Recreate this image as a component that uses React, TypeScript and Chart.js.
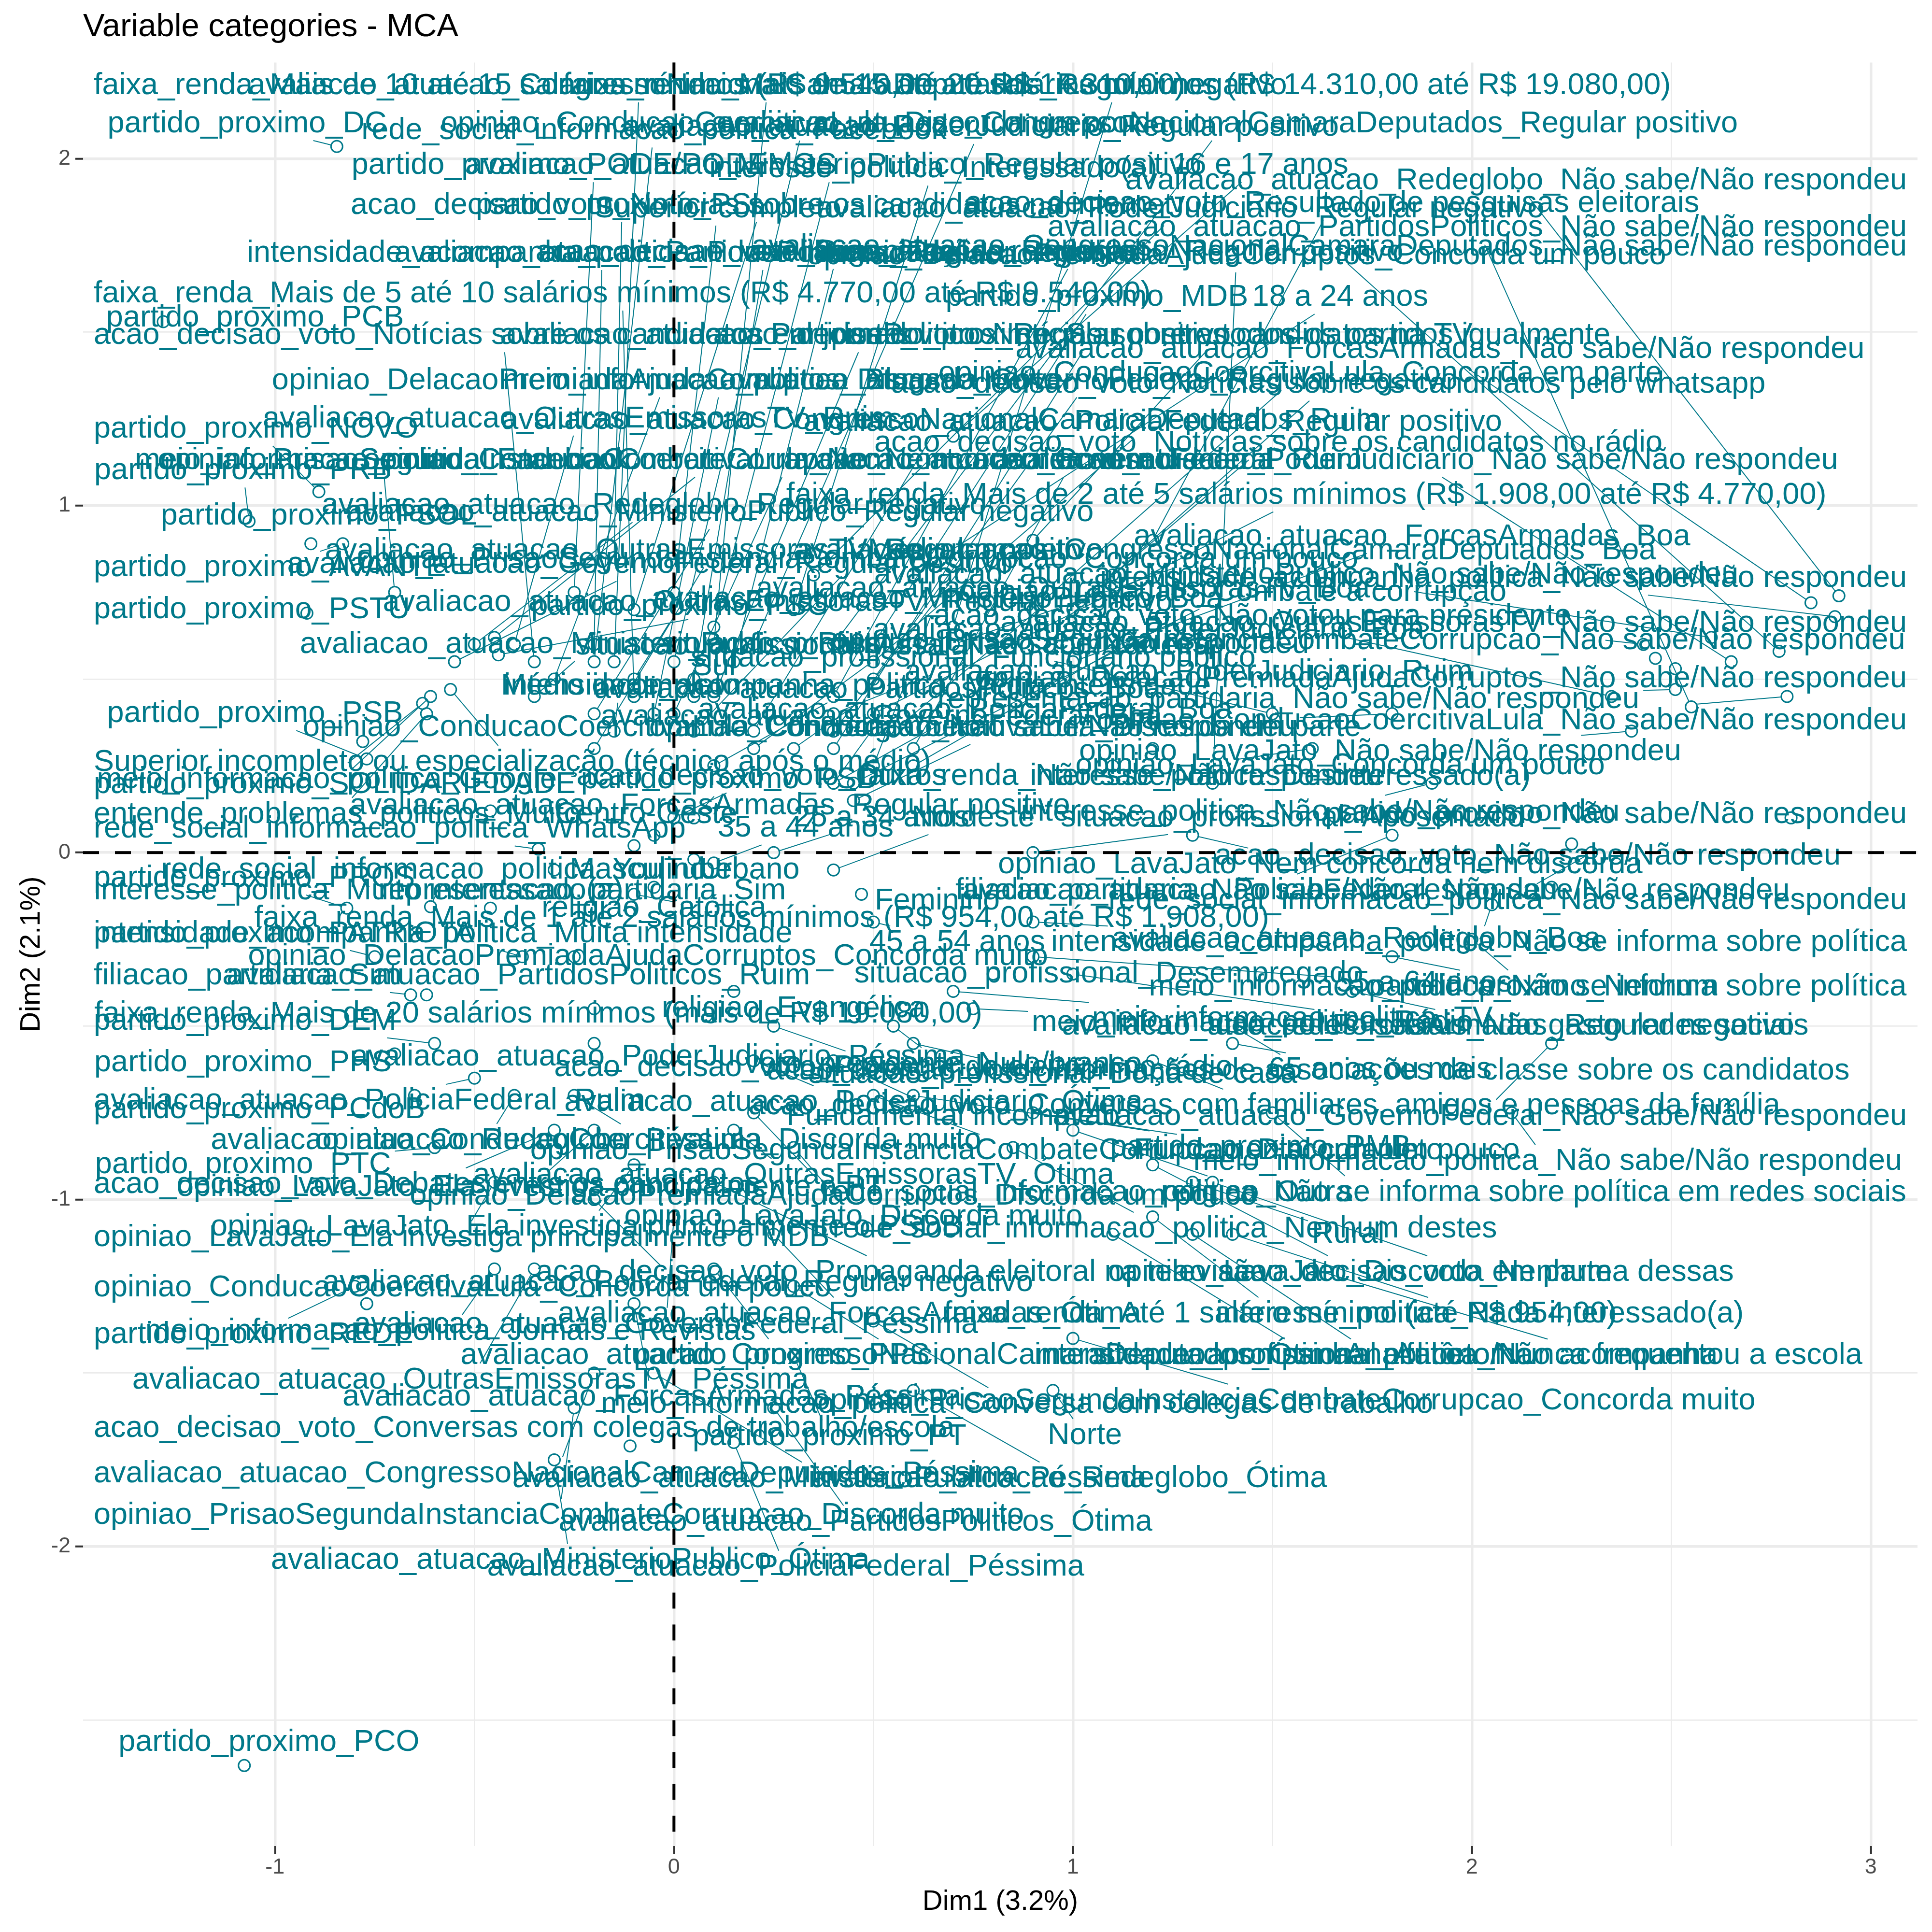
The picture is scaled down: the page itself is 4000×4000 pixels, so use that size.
import React, { useEffect, useRef } from "react";
import { Chart, registerables } from "chart.js";

Chart.register(...registerables);

const categories: string[] = [
  "faixa_renda_Mais de 10 até 15 salários mínimos (R$ 9.540,00 até R$ 14.310,00)",
  "partido_proximo_DC",
  "faixa_renda_Mais de 5 até 10 salários mínimos (R$ 4.770,00 até R$ 9.540,00)",
  "partido_proximo_PCB",
  "acao_decisao_voto_Notícias sobre os candidatos em jornais",
  "partido_proximo_NOVO",
  "partido_proximo_PRB",
  "meio_informacao_politica_Facebook",
  "opiniao_PrisaoSegundaInstanciaCombateCorrupcao_Nem concorda nem discorda",
  "partido_proximo_PSOL",
  "avaliacao_atuacao_Redeglobo_Regular negativo",
  "partido_proximo_AVANTE",
  "avaliacao_atuacao_GovernoFederal_Regular positivo",
  "partido_proximo_PSTU",
  "avaliacao_atuacao_OutrasEmissorasTV_Regular negativo",
  "partido_proximo_PSB",
  "opiniao_ConducaoCoercitivaLula_Concorda muito",
  "Superior incompleto ou especialização (técnico após o médio)",
  "partido_proximo_SOLIDARIEDADE",
  "meio_informacao_politica_Google",
  "entende_problemas_politicos_Muito",
  "avaliacao_atuacao_ForcasArmadas_Regular positivo",
  "rede_social_informacao_politica_WhatsApp",
  "partido_proximo_PROS",
  "rede_social_informacao_politica_YouTube",
  "interesse_politica_Muito interessado(a)",
  "representacao_partidaria_Sim",
  "faixa_renda_Mais de 1 até 2 salários mínimos (R$ 954,00 até R$ 1.908,00)",
  "intensidade_acompanha_politica_Muita intensidade",
  "partido_proximo_PATRIOTA",
  "opiniao_DelacaoPremiadaAjudaCorruptos_Concorda muito",
  "filiacao_partidaria_Sim",
  "avaliacao_atuacao_PartidosPoliticos_Ruim",
  "faixa_renda_Mais de 20 salários mínimos (mais de R$ 19.080,00)",
  "partido_proximo_DEM",
  "partido_proximo_PHS",
  "avaliacao_atuacao_PoderJudiciario_Péssima",
  "avaliacao_atuacao_PoliciaFederal_Ruim",
  "partido_proximo_PCdoB",
  "avaliacao_atuacao_Redeglobo_Péssima",
  "opiniao_ConducaoCoercitivaLula_Discorda muito",
  "partido_proximo_PTC",
  "acao_decisao_voto_Debates entre os candidatos",
  "opiniao_LavaJato_Ela investiga principalmente o PT",
  "opiniao_LavaJato_Ela investiga principalmente o PSDB",
  "opiniao_LavaJato_Ela investiga principalmente o MDB",
  "opiniao_ConducaoCoercitivaLula_Concorda um pouco",
  "avaliacao_atuacao_PoliciaFederal_Regular negativo",
  "partido_proximo_REDE",
  "meio_informacao_politica_Jornais e Revistas",
  "avaliacao_atuacao_GovernoFederal_Péssima",
  "avaliacao_atuacao_OutrasEmissorasTV_Péssima",
  "avaliacao_atuacao_ForcasArmadas_Péssima",
  "acao_decisao_voto_Conversas com colegas de trabalho/escola",
  "avaliacao_atuacao_CongressoNacionalCamaraDeputados_Péssima",
  "avaliacao_atuacao_MinisterioPublico_Péssima",
  "opiniao_PrisaoSegundaInstanciaCombateCorrupcao_Discorda muito",
  "avaliacao_atuacao_MinisterioPublico_Ótima",
  "avaliacao_atuacao_PoliciaFederal_Péssima",
  "partido_proximo_PCO",
  "avaliacao_atuacao_PartidosPoliticos_Ótima",
  "avaliacao_atuacao_Redeglobo_Ótima",
  "partido_proximo_PT",
  "Norte",
  "meio_informacao_politica_Conversa com colegas de trabalho",
  "opiniao_PrisaoSegundaInstanciaCombateCorrupcao_Concorda muito",
  "avaliacao_atuacao_CongressoNacionalCamaraDeputados_Ótima",
  "Analfabeto/Nunca frequentou a escola",
  "intensidade_acompanha_politica_Não acompanha",
  "partido_proximo_PPS",
  "situacao_profissional_Autônomo",
  "interesse_politica_Nada interessado(a)",
  "faixa_renda_Até 1 salário mínimo (até R$ 954,00)",
  "avaliacao_atuacao_ForcasArmadas_Ótima",
  "acao_decisao_voto_Nenhuma dessas",
  "opiniao_LavaJato_Discorda em parte",
  "acao_decisao_voto_Propaganda eleitoral na televisão",
  "rede_social_informacao_politica_Nenhum destes",
  "Rural",
  "rede_social_informacao_politica_Não se informa sobre política em redes sociais",
  "meio_informacao_politica_Não sabe/Não respondeu",
  "avaliacao_atuacao_GovernoFederal_Não sabe/Não respondeu",
  "acao_decisao_voto_Conversas com familiares, amigos e pessoas da família",
  "acao_decisao_voto_Informações de associações de classe sobre os candidatos",
  "65 anos ou mais",
  "uso_redes_sociais_Não gasto redes sociais",
  "avaliacao_atuacao_ForcasArmadas_Regular negativo",
  "meio_informacao_politica_Não se informa sobre política",
  "partido_proximo_Nenhum",
  "intensidade_acompanha_politica_Não se informa sobre política",
  "rede_social_informacao_politica_Não sabe/Não respondeu",
  "filiacao_partidaria_Não sabe/Não respondeu",
  "acao_decisao_voto_Não sabe/Não respondeu",
  "opiniao_LavaJato_Nem concorda nem discorda",
  "partido_proximo_Não sabe/Não respondeu",
  "interesse_politica_Não sabe/Não respondeu",
  "opiniao_LavaJato_Não sabe/Não respondeu",
  "opiniao_LavaJato_Concorda um pouco",
  "interesse_politica_Desinteressado(a)",
  "opiniao_ConducaoCoercitivaLula_Não sabe/Não respondeu",
  "representacao_partidaria_Não sabe/Não respondeu",
  "opiniao_DelacaoPremiadaAjudaCorruptos_Não sabe/Não respondeu",
  "avaliacao_atuacao_PoderJudiciario_Ruim",
  "opiniao_PrisaoSegundaInstanciaCombateCorrupcao_Não sabe/Não respondeu",
  "avaliacao_atuacao_OutrasEmissorasTV_Não sabe/Não respondeu",
  "acao_decisao_voto_Não votou para presidente",
  "intensidade_acompanha_politica_Não sabe/Não respondeu",
  "avaliacao_atuacao_MinisterioPublico_Não sabe/Não respondeu",
  "avaliacao_atuacao_CongressoNacionalCamaraDeputados_Boa",
  "avaliacao_atuacao_ForcasArmadas_Boa",
  "faixa_renda_Mais de 2 até 5 salários mínimos (R$ 1.908,00 até R$ 4.770,00)",
  "avaliacao_atuacao_PoderJudiciario_Não sabe/Não respondeu",
  "acao_decisao_voto_Notícias sobre os candidatos no rádio",
  "avaliacao_atuacao_PoliciaFederal_Regular positivo",
  "acao_decisao_voto_Notícias sobre os candidatos pelo whatsapp",
  "opiniao_ConducaoCoercitivaLula_Concorda em parte",
  "avaliacao_atuacao_ForcasArmadas_Não sabe/Não respondeu",
  "partido_proximo_Sou contra todos os partidos igualmente",
  "18 a 24 anos",
  "partido_proximo_MDB",
  "opiniao_DelacaoPremiadaAjudaCorruptos_Concorda um pouco",
  "avaliacao_atuacao_CongressoNacionalCamaraDeputados_Não sabe/Não respondeu",
  "avaliacao_atuacao_PartidosPoliticos_Não sabe/Não respondeu",
  "acao_decisao_voto_Resultado de pesquisas eleitorais",
  "avaliacao_atuacao_Redeglobo_Não sabe/Não respondeu",
  "faixa_renda_Mais de 15 até 20 salários mínimos (R$ 14.310,00 até R$ 19.080,00)",
  "avaliacao_atuacao_CongressoNacionalCamaraDeputados_Regular positivo",
  "avaliacao_atuacao_PoderJudiciario_Regular positivo",
  "opiniao_ConducaoCoercitivaLula_Discorda um pouco",
  "rede_social_informacao_politica_Facebook",
  "avaliacao_atuacao_CongressoNacionalCamaraDeputados_Regular negativo",
  "partido_proximo_PODE/PODEMOS",
  "avaliacao_atuacao_MinisterioPublico_Regular positivo",
  "interesse_politica_Interessado(a)",
  "16 e 17 anos",
  "acao_decisao_voto_Notícias sobre os candidatos na internet",
  "partido_proximo_PSL",
  "Superior completo",
  "avaliacao_atuacao_PoderJudiciario_Regular negativo",
  "intensidade_acompanha_politica_Pouca intensidade",
  "avaliacao_atuacao_PartidosPoliticos_Regular negativo",
  "acao_decisao_voto_Organizações religiosas",
  "avaliacao_atuacao_Redeglobo_Regular positivo",
  "avaliacao_atuacao_PartidosPoliticos_Regular positivo",
  "acao_decisao_voto_Notícias sobre os candidatos na TV",
  "meio_informacao_politica_Blogs",
  "opiniao_DelacaoPremiadaAjudaCorruptos_Discorda muito",
  "avaliacao_atuacao_GovernoFederal_Regular negativo",
  "avaliacao_atuacao_OutrasEmissorasTV_Ruim",
  "avaliacao_atuacao_CongressoNacionalCamaraDeputados_Ruim",
  "opiniao_ConducaoCoercitivaLula_Nem concorda nem discorda",
  "opiniao_LavaJato_Combate a corrupção",
  "avaliacao_atuacao_GovernoFederal_Ruim",
  "avaliacao_atuacao_MinisterioPublico_Regular negativo",
  "avaliacao_atuacao_OutrasEmissorasTV_Regular positivo",
  "avaliacao_atuacao_MinisterioPublico_Boa",
  "Médio completo",
  "avaliacao_atuacao_PoderJudiciario_Boa",
  "avaliacao_atuacao_OutrasEmissorasTV_Boa",
  "situacao_profissional_Assalariado com carteira",
  "situacao_profissional_Funcionário público",
  "partido_proximo_PSC",
  "Sul",
  "Médio incompleto",
  "avaliacao_atuacao_PartidosPoliticos_Boa",
  "avaliacao_atuacao_PoliciaFederal_Boa",
  "opiniao_ConducaoCoercitivaLula_Discorda em parte",
  "partido_proximo_PSD",
  "faixa_renda_Não sabe/Não respondeu",
  "Centro-Oeste",
  "25 a 34 anos",
  "Nordeste",
  "situacao_profissional_Aposentado",
  "Feminino",
  "Urbano",
  "Masculino",
  "avaliacao_atuacao_PoliciaFederal_Não sabe/Não respondeu",
  "35 a 44 anos",
  "55 a 64 anos",
  "45 a 54 anos",
  "situacao_profissional_Desempregado",
  "meio_informacao_politica_TV",
  "meio_informacao_politica_Rádio",
  "voto_presidente_Nulo/branco",
  "Fundamental completo",
  "opiniao_PrisaoSegundaInstanciaCombateCorrupcao_Discorda um pouco",
  "religiao_Outra",
  "partido_proximo_PMB",
  "situacao_profissional_Não sabe/Não respondeu",
  "religiao_Não sabe/Não respondeu",
  "avaliacao_atuacao_GovernoFederal_Boa",
  "intensidade_acompanha_politica_Média intensidade",
  "acao_decisao_voto_Outros",
  "avaliacao_atuacao_Redeglobo_Boa",
  "opiniao_PrisaoSegundaInstanciaCombateCorrupcao_Concorda um pouco",
  "avaliacao_atuacao_PoderJudiciario_Ótima",
  "acao_decisao_voto_Propaganda eleitoral no rádio",
  "opiniao_DelacaoPremiadaAjudaCorruptos_Discorda um pouco",
  "avaliacao_atuacao_OutrasEmissorasTV_Ótima",
  "opiniao_LavaJato_Discorda muito",
  "Fundamental incompleto",
  "situacao_profissional_Dona de casa",
  "religiao_Evangélica",
  "religiao_Católica",
  "avaliacao_atuacao_MinisterioPublico_Ruim",
];

// coordinates of each category (Dim1, Dim2)
const dim1: number[] = [
  -0.15, -0.845, -0.10, -1.28, -0.35, -0.89, -1.065, -0.70, -0.45, -0.91,
  -0.50, -0.83, -0.55, -0.92, -0.44, -0.77, -0.78, -0.56, -0.61, -0.63,
  -0.62, -0.46, -0.34, -0.82, -0.61, -0.46, -0.30, -0.10, -0.38, -0.75,
  -0.25, -0.66, -0.62, -0.20, -0.60, -0.70, -0.20, -0.50, -0.65, -0.40,
  -0.25, -0.60, -0.30, -0.20, -0.10, -0.45, -0.77, -0.20, -0.80, -0.45,
  0.00, -0.35, -0.10, -0.11, -0.20, -0.05, -0.25, -0.30, 0.15, -1.077,
  0.25, 0.60, 0.30, 0.95, 0.50, 1.00, 0.30, 1.60, 1.30, 0.10,
  1.10, 1.40, 1.20, 0.25, 1.35, 1.20, 0.10, 0.85, 1.30, 1.50,
  2.10, 2.20, 1.20, 1.40, 1.40, 1.70, 1.00, 2.00, 1.80, 2.05,
  2.30, 1.80, 2.25, 1.30, 2.80, 1.90, 2.40, 1.20, 1.10, 2.79,
  2.51, 2.51, 0.80, 2.46, 2.43, 2.35, 2.91, 2.60, 0.70, 1.00,
  0.50, 2.65, 1.00, 0.50, 1.10, 0.90, 2.85, 0.90, 0.60, 0.50,
  1.35, 2.77, 2.55, 1.20, 2.92, 0.70, 0.40, 0.20, 0.00, -0.20,
  0.10, -0.25, 0.10, 0.30, 0.70, -0.10, -0.15, 0.00, 0.35, -0.20,
  0.05, 0.15, 0.40, 0.10, 0.40, -0.05, -0.30, 0.50, -0.40, 0.20,
  0.00, 0.45, 0.60, -0.20, -0.20, 0.50, 0.40, 0.60, 0.55, 0.20,
  0.40, -0.10, 0.05, -0.15, 0.30, 0.40, 0.45, 0.05, 1.60, -0.05,
  0.25, 0.40, 0.90, 0.47, 0.05, -0.10, 2.20, 0.10, 0.90, 0.50,
  0.80, 0.70, 0.75, 0.55, 0.90, 0.50, 1.00, 0.60, 1.50, 1.80,
  0.40, 0.10, 0.00, 0.90, 0.05, 0.20, 0.25, 0.20, 0.15, 0.30,
  0.40, 0.60, 0.15, -0.05, -0.35,
];

const dim2: number[] = [
  0.55, 2.035, 0.45, 1.53, 0.55, 1.04, 0.955, 0.75, 0.62, 0.89,
  0.60, 0.89, 0.55, 0.69, 0.57, 0.27, 0.32, 0.47, 0.45, 0.43,
  0.40, 0.12, 0.01, -0.16, -0.156, -0.16, -0.05, -0.12, -0.30, -0.30,
  -0.30, -0.41, -0.41, -0.45, -0.55, -0.58, -0.55, -0.65, -0.70, -0.70,
  -0.70, -0.85, -0.80, -0.80, -0.90, -0.95, -1.30, -1.00, -1.25, -1.20,
  -1.05, -1.20, -1.30, -1.71, -1.50, -1.50, -1.60, -1.75, -1.70, -2.631,
  -1.60, -1.55, -1.45, -1.55, -1.35, -1.40, -1.25, -1.20, -1.10, -1.20,
  -1.10, -1.10, -1.05, -1.10, -0.95, -0.90, -0.95, -0.85, -0.95, -0.75,
  -0.75, -0.55, -0.60, -0.50, -0.55, -0.40, -0.35, -0.25, -0.30, -0.15,
  0.00, 0.05, 0.025, 0.05, 0.10, 0.20, 0.35, 0.30, 0.25, 0.45,
  0.47, 0.53, 0.50, 0.56, 0.60, 0.45, 0.68, 0.62, 0.60, 0.55,
  0.40, 0.55, 0.70, 0.55, 0.80, 0.70, 0.72, 0.90, 0.80, 0.60,
  0.20, 0.58, 0.42, 0.90, 0.74, 0.65, 0.60, 0.60, 0.55, 0.55,
  0.60, 0.75, 0.65, 0.70, 1.20, 0.70, 0.85, 0.75, 0.80, 0.60,
  0.50, 0.55, 0.45, 0.45, 0.30, 0.40, 0.50, 0.50, 0.60, 0.35,
  0.40, 0.20, 0.30, 0.40, 0.30, 0.25, 0.35, 0.25, 0.35, 0.30,
  0.40, 0.50, 0.45, 0.35, 0.30, 0.20, 0.15, 0.10, 0.30, 0.05,
  0.00, -0.05, 0.00, -0.12, -0.02, 0.02, -0.10, -0.03, -0.30, -0.20,
  -0.35, -0.40, -0.45, -0.50, -0.75, -0.70, -0.80, -0.70, 0.40, 0.40,
  0.20, 0.25, 0.10, -0.20, 0.35, -0.60, -0.50, -0.75, -0.80, -0.85,
  -0.60, -0.55, -0.40, -0.10, 0.45,
];

// repelled label centres (Dim1, Dim2)
const labelDim1: number[] = [
  -0.12, -1.07, -0.15, -1.05, -0.43, -1.06, -1.08, -0.73, 0.105, -0.89,
  -0.05, -1.02, -0.06, -1.06, 0.26, -1.05, -0.08, -0.43, -0.88, -0.87,
  -0.88, 0.09, -0.74, -1.06, -0.57, -0.79, -0.23, 0.22, -0.60, -0.98,
  -0.065, -1.07, -0.39, -0.34, -1.08, -1.08, -0.04, -0.81, -1.04, -0.47,
  -0.065, -1.08, -0.67, -0.36, -0.22, -0.56, -0.545, 0.01, -1.06, -0.56,
  -0.02, -0.51, -0.055, -0.42, -0.34, 0.39, -0.33, -0.26, 0.28, -1.015,
  0.455, 0.99, 0.39, 1.03, 0.86, 1.53, 0.58, 2.33, 1.76, 0.27,
  1.60, 2.02, 1.52, 0.44, 2.01, 1.72, 0.57, 1.23, 1.69, 1.73,
  2.19, 2.10, 1.48, 1.59, 1.77, 2.10, 1.89, 2.14, 2.18, 2.03,
  2.12, 1.46, 2.14, 1.62, 2.40, 1.62, 1.77, 1.67, 1.52, 2.10,
  1.54, 1.97, 1.29, 1.74, 2.02, 1.45, 2.12, 1.585, 1.38, 1.85,
  1.585, 1.86, 1.49, 1.20, 1.64, 1.57, 1.92, 1.37, 1.67, 1.06,
  1.41, 1.73, 2.05, 1.65, 2.16, 1.11, 1.38, 0.77, 0.325, -0.05,
  0.235, -0.20, 0.40, 0.65, 1.47, 0.22, -0.13, 0.11, 1.27, -0.18,
  0.23, 0.41, 1.01, 0.48, 1.05, 0.12, -0.02, 1.04, -0.24, 0.67,
  0.29, 1.40, 1.00, 0.115, 0.10, 0.66, 0.755, 1.19, 0.975, 0.55,
  0.75, 0.015, 0.10, -0.135, 0.51, 0.73, 0.83, 0.14, 1.12, -0.07,
  0.52, 0.75, 1.55, 0.66, 0.19, -0.09, 1.76, 0.33, 1.88, 0.71,
  1.09, 1.55, 1.45, 0.675, 1.54, 0.88, 1.46, 1.47, 0.78, 0.98,
  0.52, 0.46, 0.22, 1.71, 0.46, 0.45, 0.55, 0.40, 0.30, 0.45,
  0.70, 0.95, 0.30, -0.05, -0.20,
];

const labelDim2: number[] = [
  2.21, 2.10, 1.61, 1.54, 1.49, 1.22, 1.10, 1.13, 1.13, 0.97,
  1.00, 0.82, 0.83, 0.70, 0.72, 0.40, 0.36, 0.26, 0.195, 0.21,
  0.11, 0.135, 0.067, -0.074, -0.05, -0.11, -0.11, -0.19, -0.234, -0.234,
  -0.30, -0.355, -0.355, -0.465, -0.486, -0.606, -0.59, -0.716, -0.741, -0.83,
  -0.83, -0.90, -0.957, -0.965, -1.08, -1.11, -1.255, -1.24, -1.39, -1.38,
  -1.36, -1.52, -1.57, -1.66, -1.79, -1.805, -1.91, -2.04, -2.06, -2.564,
  -1.93, -1.805, -1.684, -1.68, -1.59, -1.58, -1.45, -1.45, -1.45, -1.45,
  -1.45, -1.33, -1.33, -1.33, -1.21, -1.21, -1.21, -1.085, -1.10, -0.98,
  -0.89, -0.76, -0.73, -0.63, -0.625, -0.50, -0.50, -0.387, -0.387, -0.26,
  -0.138, -0.11, -0.01, -0.035, 0.11, 0.117, 0.29, 0.25, 0.22, 0.38,
  0.44, 0.50, 0.52, 0.61, 0.66, 0.68, 0.79, 0.80, 0.87, 0.91,
  1.03, 1.13, 1.18, 1.24, 1.35, 1.38, 1.45, 1.49, 1.60, 1.60,
  1.72, 1.745, 1.80, 1.87, 1.936, 2.21, 2.10, 2.09, 2.10, 2.08,
  2.21, 1.98, 1.98, 1.97, 1.98, 1.865, 1.865, 1.855, 1.855, 1.727,
  1.727, 1.73, 1.73, 1.49, 1.49, 1.36, 1.36, 1.36, 1.25, 1.245,
  1.13, 0.75, 1.13, 0.98, 0.87, 0.73, 0.87, 0.64, 0.76, 0.595,
  0.56, 0.71, 0.535, 0.48, 0.47, 0.41, 0.36, 0.21, 0.22, 0.11,
  0.10, 0.10, 0.10, -0.14, -0.05, -0.05, -0.11, 0.07, -0.376, -0.26,
  -0.35, -0.48, -0.49, -0.61, -0.86, -0.86, -0.98, -0.85, 0.60, 0.36,
  0.39, 0.48, 0.22, -0.25, 0.845, -0.72, -0.62, -0.99, -0.93, -1.05,
  -0.76, -0.64, -0.45, -0.16, 0.60,
];

const xMajorTicks: number[] = [-1, 0, 1, 2, 3];
const xMinorTicks: number[] = [-0.5, 0.5, 1.5, 2.5];
const yMajorTicks: number[] = [-2, -1, 0, 1, 2];
const yMinorTicks: number[] = [-2.5, -1.5, -0.5, 0.5, 1.5];
const xLimits: number[] = [-1.481, 3.117];
const yLimits: number[] = [-2.863, 2.277];

const TITLE = "Variable categories - MCA";
const X_TITLE = "Dim1 (3.2%)";
const Y_TITLE = "Dim2 (2.1%)";

const FONT = "'Liberation Sans', Arial, Helvetica, sans-serif";
const TEAL = "#00798A";
const LABEL_SIZE = 63;

const isMajor = (v: number) => Math.abs(v - Math.round(v)) < 1e-9;

const repelLabels = {
  id: "repelLabels",
  afterDatasetsDraw(chart: any) {
    const { ctx, chartArea, scales } = chart;
    const xs = scales.x;
    const ys = scales.y;
    ctx.save();
    ctx.font = `${LABEL_SIZE}px ${FONT}`;
    const margin = 22;
    const items = categories.map((text, i) => {
      const w = ctx.measureText(text).width;
      let cx = xs.getPixelForValue(labelDim1[i]);
      const cy = ys.getPixelForValue(labelDim2[i]);
      const minC = chartArea.left + margin + w / 2;
      const maxC = chartArea.right - margin - w / 2;
      if (cx < minC) cx = minC;
      if (cx > maxC) cx = maxC;
      return {
        text,
        w,
        cx,
        cy,
        px: xs.getPixelForValue(dim1[i]),
        py: ys.getPixelForValue(dim2[i]),
      };
    });

    // segments: from the point towards the label centre, stopping at the label box
    ctx.strokeStyle = TEAL;
    ctx.lineWidth = 2;
    items.forEach((b) => {
      const pad = 8;
      const hw = b.w / 2 + pad;
      const hh = LABEL_SIZE * 0.42 + pad;
      const vx = b.px - b.cx;
      const vy = b.py - b.cy;
      if (Math.abs(vx) <= hw && Math.abs(vy) <= hh) return;
      const s = Math.min(
        Math.abs(vx) > 1e-9 ? hw / Math.abs(vx) : Infinity,
        Math.abs(vy) > 1e-9 ? hh / Math.abs(vy) : Infinity
      );
      const ex = b.cx + vx * s;
      const ey = b.cy + vy * s;
      const dx = ex - b.px;
      const dy = ey - b.py;
      const d = Math.hypot(dx, dy);
      if (d < 26) return;
      const r = 12;
      ctx.beginPath();
      ctx.moveTo(b.px + (dx / d) * r, b.py + (dy / d) * r);
      ctx.lineTo(ex, ey);
      ctx.stroke();
    });

    // labels
    ctx.fillStyle = TEAL;
    ctx.textAlign = "center";
    ctx.textBaseline = "middle";
    items.forEach((b) => ctx.fillText(b.text, b.cx, b.cy));

    // dashed reference lines at 0
    ctx.strokeStyle = "#000000";
    ctx.lineWidth = 6;
    ctx.setLineDash([33, 33]);
    const x0 = xs.getPixelForValue(0);
    const y0 = ys.getPixelForValue(0);
    ctx.beginPath();
    ctx.moveTo(x0, chartArea.top);
    ctx.lineTo(x0, chartArea.bottom);
    ctx.stroke();
    ctx.beginPath();
    ctx.moveTo(chartArea.left, y0);
    ctx.lineTo(chartArea.right, y0);
    ctx.stroke();
    ctx.restore();
  },
};

export default function App() {
  const canvasRef = useRef<HTMLCanvasElement | null>(null);

  useEffect(() => {
    document.body.style.margin = "0";
    const canvas = canvasRef.current;
    if (!canvas) return;

    const gridColor = "#EBEBEB";
    const tickFont = { family: FONT, size: 45, weight: "normal" as const };
    const axisTitleFont = { family: FONT, size: 58, weight: "normal" as const };

    const chart = new Chart(canvas, {
      type: "scatter",
      data: {
        datasets: [
          {
            data: dim1.map((x, i) => ({ x, y: dim2[i] })),
            pointStyle: "circle",
            pointRadius: 12,
            pointBorderWidth: 3,
            pointBackgroundColor: "rgba(0,0,0,0)",
            pointBorderColor: TEAL,
            showLine: false,
            clip: false as any,
          },
        ],
      },
      options: {
        responsive: false,
        animation: false,
        devicePixelRatio: 1,
        events: [],
        layout: { padding: { left: 0, right: 30, top: 0, bottom: 0 } },
        plugins: {
          legend: { display: false },
          tooltip: { enabled: false },
          title: {
            display: true,
            text: TITLE,
            align: "start",
            fullSize: false,
            color: "#000000",
            font: { family: FONT, size: 67, weight: "normal" },
            padding: { top: 16, bottom: 33 },
          },
        },
        scales: {
          x: {
            type: "linear",
            min: xLimits[0],
            max: xLimits[1],
            afterBuildTicks: (scale: any) => {
              scale.ticks = [...xMajorTicks, ...xMinorTicks]
                .sort((a, b) => a - b)
                .map((v) => ({ value: v }));
            },
            afterFit: (scale: any) => {
              scale.height = 178;
            },
            ticks: {
              autoSkip: false,
              maxRotation: 0,
              padding: 2,
              color: "#4D4D4D",
              font: tickFont,
              callback: (v: any) => (isMajor(Number(v)) ? String(Math.round(Number(v))) : ""),
            },
            grid: {
              color: gridColor,
              lineWidth: (c: any) => (isMajor(c.tick.value) ? 5.5 : 2.8),
              drawTicks: true,
              tickLength: 16,
              tickWidth: 4,
              tickColor: (c: any) => (isMajor(c.tick.value) ? "#333333" : "rgba(0,0,0,0)"),
            },
            border: { display: false },
            title: {
              display: true,
              text: X_TITLE,
              color: "#000000",
              font: axisTitleFont,
              padding: { top: 4, bottom: 27 },
            },
          },
          y: {
            type: "linear",
            min: yLimits[0],
            max: yLimits[1],
            afterBuildTicks: (scale: any) => {
              scale.ticks = [...yMajorTicks, ...yMinorTicks]
                .sort((a, b) => a - b)
                .map((v) => ({ value: v }));
            },
            afterFit: (scale: any) => {
              scale.width = 172;
            },
            ticks: {
              autoSkip: false,
              padding: 10,
              color: "#4D4D4D",
              font: tickFont,
              callback: (v: any) => (isMajor(Number(v)) ? String(Math.round(Number(v))) : ""),
            },
            grid: {
              color: gridColor,
              lineWidth: (c: any) => (isMajor(c.tick.value) ? 5.5 : 2.8),
              drawTicks: true,
              tickLength: 16,
              tickWidth: 4,
              tickColor: (c: any) => (isMajor(c.tick.value) ? "#333333" : "rgba(0,0,0,0)"),
            },
            border: { display: false },
            title: {
              display: true,
              text: Y_TITLE,
              color: "#000000",
              font: axisTitleFont,
              padding: { top: 31, bottom: 4 },
            },
          },
        },
      } as any,
      plugins: [repelLabels],
    });

    return () => chart.destroy();
  }, []);

  return (
    <div style={{ width: 4000, height: 4000, background: "#ffffff" }}>
      <canvas
        ref={canvasRef}
        width={4000}
        height={4000}
        style={{ display: "block", width: 4000, height: 4000 }}
      />
    </div>
  );
}
